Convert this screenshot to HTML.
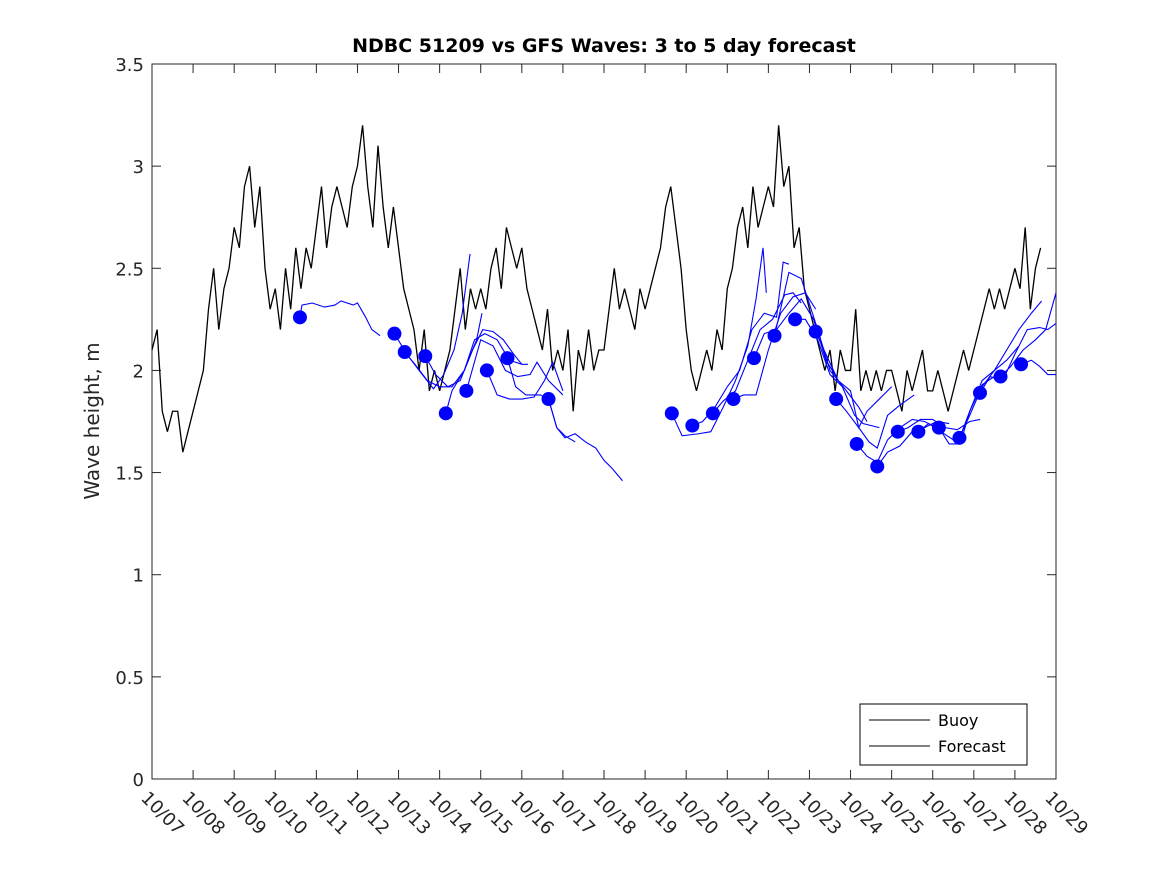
<!DOCTYPE html>
<html><head><meta charset="utf-8"><style>
body{margin:0;background:#fff}
svg{display:block;font-family:"DejaVu Sans","Liberation Sans",sans-serif}
</style></head><body>
<svg id="chart" width="1167" height="875">
<text x="604" y="52" text-anchor="middle" font-size="19" font-weight="bold" fill="#000">NDBC 51209 vs GFS Waves: 3 to 5 day forecast</text>
<text transform="translate(99,421) rotate(-90)" text-anchor="middle" font-size="20" fill="#262626">Wave height, m</text>
<g id="axes"></g>
<g id="marks"></g>
<g>
<rect x="860" y="704" width="167" height="61" fill="#fff" stroke="#000" stroke-width="1"/>
<line x1="869" y1="720" x2="930" y2="720" stroke="#000"/>
<text x="938" y="726" font-size="16" fill="#000">Buoy</text>
<line x1="869" y1="746" x2="930" y2="746" stroke="#000"/>
<text x="938" y="752" font-size="16" fill="#000">Forecast</text>
</g>
</svg>
<script>
const xLabels=["10/07","10/08","10/09","10/10","10/11","10/12","10/13","10/14","10/15","10/16","10/17","10/18","10/19","10/20","10/21","10/22","10/23","10/24","10/25","10/26","10/27","10/28","10/29"];
const yTicks=[0,0.5,1,1.5,2,2.5,3,3.5];
const yTickLabels=["0","0.5","1","1.5","2","2.5","3","3.5"];
// buoy: 8 samples per day starting 10/07
const buoy=[
2.1,2.2,1.8,1.7,1.8,1.8,1.6,1.7,
1.8,1.9,2.0,2.3,2.5,2.2,2.4,2.5,
2.7,2.6,2.9,3.0,2.7,2.9,2.5,2.3,
2.4,2.2,2.5,2.3,2.6,2.4,2.6,2.5,
2.7,2.9,2.6,2.8,2.9,2.8,2.7,2.9,
3.0,3.2,2.9,2.7,3.1,2.8,2.6,2.8,
2.6,2.4,2.3,2.2,2.0,2.2,1.9,2.0,
1.9,2.0,2.1,2.3,2.5,2.2,2.4,2.3,
2.4,2.3,2.5,2.6,2.4,2.7,2.6,2.5,
2.6,2.4,2.3,2.2,2.1,2.3,2.0,2.1,
2.0,2.2,1.8,2.1,2.0,2.2,2.0,2.1,
2.1,2.3,2.5,2.3,2.4,2.3,2.2,2.4,
2.3,2.4,2.5,2.6,2.8,2.9,2.7,2.5,
2.2,2.0,1.9,2.0,2.1,2.0,2.2,2.1,
2.4,2.5,2.7,2.8,2.6,2.9,2.7,2.8,
2.9,2.8,3.2,2.9,3.0,2.6,2.7,2.4,
2.3,2.2,2.1,2.0,2.1,1.9,2.1,2.0,
2.0,2.3,1.9,2.0,1.9,2.0,1.9,2.0,
2.0,1.9,1.8,2.0,1.9,2.0,2.1,1.9,
1.9,2.0,1.9,1.8,1.9,2.0,2.1,2.0,
2.1,2.2,2.3,2.4,2.3,2.4,2.3,2.4,
2.5,2.4,2.7,2.3,2.5,2.6];
const buoyStep=0.125;
const dotDays=[3.6,5.9,6.15,6.65,7.15,7.65,8.15,8.65,9.65,12.65,13.15,13.65,14.15,14.65,15.15,15.65,16.15,16.65,17.15,17.65,18.15,18.65,19.15,19.65,20.15,20.65,21.15];
const dotVals=[2.26,2.18,2.09,2.07,1.79,1.90,2.00,2.06,1.86,1.79,1.73,1.79,1.86,2.06,2.17,2.25,2.19,1.86,1.64,1.53,1.70,1.70,1.72,1.67,1.89,1.97,2.03];
const fcLines=[
[[3.6,2.26],[3.65,2.32],[3.9,2.33],[4.2,2.31],[4.45,2.32],[4.6,2.34],[4.9,2.32],[5.0,2.33],[5.2,2.26],[5.35,2.2],[5.55,2.17]],
[[5.9,2.18],[6.2,2.08],[6.5,2.0],[6.85,1.91],[7.1,1.98],[7.35,2.1],[7.55,2.28],[7.74,2.57]],
[[6.15,2.09],[6.4,2.03],[6.7,1.95],[7.0,1.92],[7.3,1.92],[7.6,2.0],[7.9,2.15],[8.03,2.28]],
[[6.65,2.07],[6.9,1.98],[7.2,1.92],[7.5,1.95],[7.8,2.1],[8.05,2.2],[8.3,2.19],[8.55,2.15],[8.8,2.08],[9.0,2.03]],
[[7.15,1.79],[7.3,1.9],[7.6,2.0],[7.85,2.15],[8.1,2.18],[8.4,2.15],[8.7,2.05],[9.0,2.03],[9.15,2.03]],
[[7.65,1.90],[8.0,2.15],[8.3,2.12],[8.6,2.0],[8.9,1.97],[9.2,1.98],[9.37,2.04],[9.65,1.95],[10.0,1.88]],
[[8.15,2.00],[8.4,1.88],[8.7,1.86],[9.0,1.86],[9.3,1.87],[9.55,1.95],[9.75,2.04],[10.0,1.9]],
[[8.65,2.06],[8.85,1.92],[9.1,1.88],[9.45,1.88],[9.65,1.86],[9.85,1.72],[10.05,1.68],[10.3,1.65]],
[[9.65,1.86],[9.85,1.72],[10.05,1.67],[10.3,1.69],[10.55,1.65],[10.8,1.62],[11.0,1.56],[11.2,1.52],[11.45,1.46]],
[[12.65,1.79],[12.9,1.68],[13.3,1.69],[13.6,1.70],[13.9,1.82],[14.2,1.95],[14.5,2.12],[14.7,2.35],[14.87,2.6],[14.95,2.38]],
[[13.15,1.73],[13.4,1.75],[13.7,1.82],[14.0,1.92],[14.3,2.0],[14.6,2.2],[14.9,2.28],[15.2,2.26],[15.36,2.53],[15.5,2.52]],
[[13.65,1.79],[13.9,1.85],[14.2,1.9],[14.5,2.05],[14.8,2.2],[15.1,2.25],[15.4,2.37],[15.6,2.38],[15.8,2.33]],
[[14.15,1.86],[14.4,1.88],[14.7,1.88],[15.0,2.1],[15.3,2.28],[15.6,2.36],[15.9,2.38],[16.15,2.3]],
[[14.65,2.06],[14.9,2.18],[15.2,2.2],[15.5,2.28],[15.8,2.35],[16.1,2.25],[16.4,2.05],[16.65,1.97]],
[[15.15,2.17],[15.5,2.48],[15.8,2.45],[16.2,2.2],[16.5,2.0],[16.9,1.9],[17.2,1.82],[17.4,1.75]],
[[15.65,2.25],[15.9,2.25],[16.2,2.15],[16.5,1.98],[16.8,1.92],[17.1,1.78],[17.3,1.74],[17.7,1.72]],
[[16.15,2.19],[16.4,2.08],[16.7,1.95],[17.0,1.9],[17.2,1.72],[17.4,1.8],[17.65,1.85],[18.0,1.92]],
[[16.65,1.86],[16.9,1.8],[17.2,1.72],[17.45,1.65],[17.65,1.62],[17.9,1.78],[18.2,1.83],[18.55,1.88]],
[[17.15,1.64],[17.4,1.58],[17.65,1.55],[17.9,1.66],[18.2,1.72],[18.5,1.76],[18.8,1.75],[19.1,1.72]],
[[17.65,1.53],[17.9,1.6],[18.2,1.63],[18.5,1.7],[18.8,1.72],[19.1,1.75],[19.4,1.74]],
[[18.15,1.70],[18.4,1.72],[18.7,1.76],[19.0,1.76],[19.3,1.72],[19.6,1.71],[19.9,1.75],[20.15,1.76]],
[[18.65,1.70],[18.9,1.74],[19.2,1.7],[19.5,1.66],[19.7,1.66],[19.9,1.8],[20.2,1.93],[20.5,1.97],[20.65,1.95]],
[[19.15,1.72],[19.4,1.64],[19.6,1.64],[19.9,1.8],[20.2,1.95],[20.5,2.0],[20.8,2.05],[21.1,2.12]],
[[19.65,1.67],[19.9,1.78],[20.2,1.92],[20.5,2.0],[20.8,2.1],[21.1,2.2],[21.4,2.28],[21.65,2.34]],
[[20.15,1.89],[20.4,1.97],[20.7,1.95],[21.0,2.08],[21.3,2.2],[21.6,2.21],[21.8,2.2],[22.0,2.23]],
[[20.65,1.97],[20.9,2.02],[21.2,2.1],[21.5,2.15],[21.75,2.2],[22.0,2.38]],
[[21.15,2.03],[21.4,2.05],[21.6,2.02],[21.8,1.98],[22.0,1.98]]
];
const L=152,R=1056,T=64,B=779;
const xs=d=>L+(R-L)*d/22;
const ys=v=>B-(B-T)*v/3.5;
const NS="http://www.w3.org/2000/svg";
function mk(tag,attrs,parent){const e=document.createElementNS(NS,tag);for(const k in attrs)e.setAttribute(k,attrs[k]);parent.appendChild(e);return e;}
const ax=document.getElementById('axes'),mg=document.getElementById('marks');
const box=mk('rect',{x:L,y:T,width:R-L,height:B-T,fill:'none',stroke:'#262626','stroke-width':1},ax);


yTicks.forEach((v,i)=>{
 const y=ys(v);
 const t1=mk('line',{x1:L,y1:y,x2:L+9,y2:y,stroke:'#262626'},ax);
 
 
 const t2=mk('line',{x1:R,y1:y,x2:R-9,y2:y,stroke:'#262626'},ax);
 
 
 const tx=mk('text',{x:L-8,y:y+7,'text-anchor':'end','font-size':18,fill:'#262626'},ax);
 tx.textContent=yTickLabels[i];
 
 
});
xLabels.forEach((lab,i)=>{
 const x=xs(i);
 const t1=mk('line',{x1:x,y1:B,x2:x,y2:B-9,stroke:'#262626'},ax);
 
 
 const t2=mk('line',{x1:x,y1:T,x2:x,y2:T+9,stroke:'#262626'},ax);
 
 
 const tx=mk('text',{transform:`translate(${x-12},${B+20}) rotate(45)`,'font-size':18,fill:'#262626'},ax);
 tx.textContent=lab;
 
 
});
const bp=mk('polyline',{points:buoy.map((v,i)=>xs(i*buoyStep)+','+ys(v)).join(' '),fill:'none',stroke:'#000','stroke-width':1.3},mg);


fcLines.forEach(ln=>{
 const p=mk('polyline',{points:ln.map(q=>xs(q[0])+','+ys(q[1])).join(' '),fill:'none',stroke:'#0000ff','stroke-width':1.1},mg);
 
 
});
dotDays.forEach((d,i)=>{
 const c=mk('circle',{cx:xs(d),cy:ys(dotVals[i]),r:7,fill:'#0000ff'},mg);
 
 
});
</script>
</body></html>
